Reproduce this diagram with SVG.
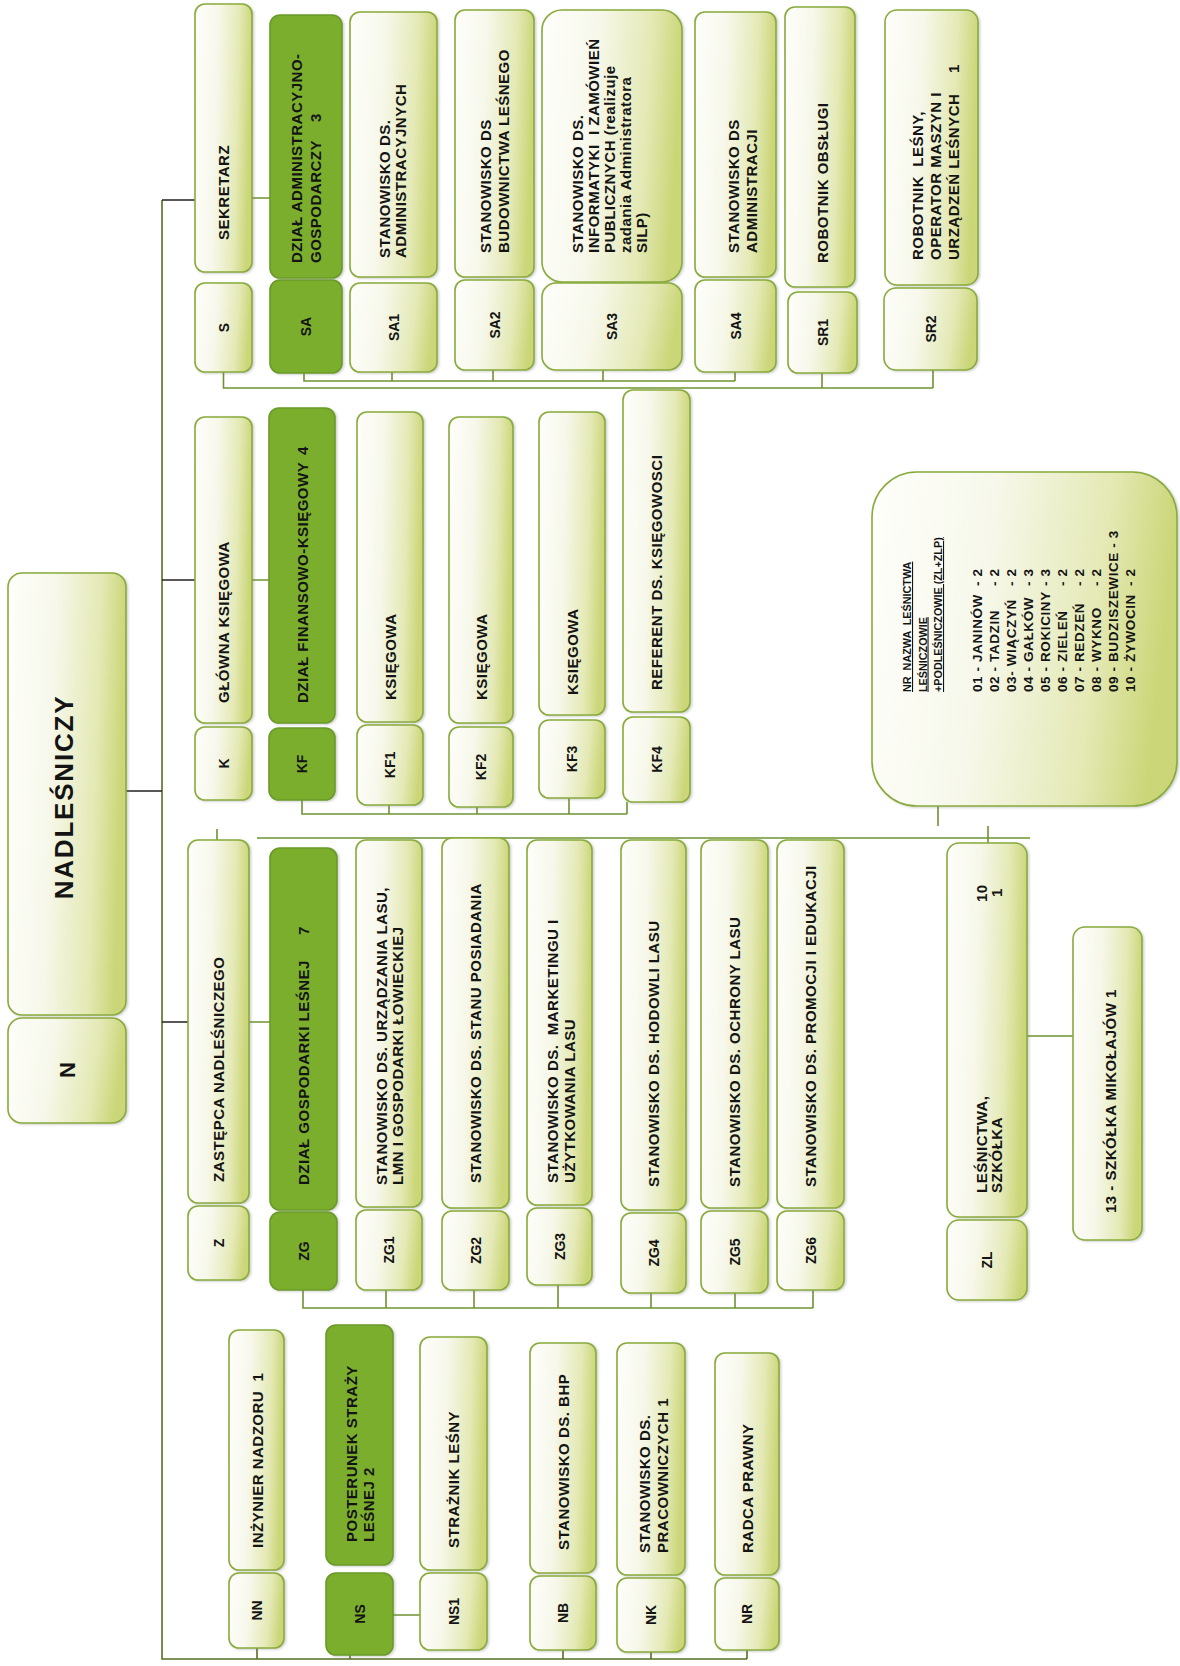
<svg xmlns="http://www.w3.org/2000/svg" width="1180" height="1666" viewBox="0 0 1180 1666">
<defs>
<linearGradient id="g" x1="0" y1="0" x2="1" y2="0.12">
<stop offset="0" stop-color="#fefefb"/>
<stop offset="0.4" stop-color="#f7f8eb"/>
<stop offset="0.78" stop-color="#e4e9b5"/>
<stop offset="1" stop-color="#cbd678"/>
</linearGradient>
<filter id="sh" x="-10%" y="-10%" width="130%" height="130%">
<feDropShadow dx="1.5" dy="1" stdDeviation="1" flood-color="#777" flood-opacity="0.35"/>
</filter>
<style>
.b{fill:url(#g);stroke:#89ab3b;stroke-width:1.6;filter:url(#sh)}
.d{fill:#7bae2f;stroke:#6b9a26;stroke-width:1.6;filter:url(#sh)}
text{font-family:"Liberation Sans",Arial,sans-serif;font-weight:bold;fill:#141414}
.t{font-size:15px;letter-spacing:0.5px}
.c{font-size:14px;text-anchor:middle}
.h{font-size:10.8px;text-decoration:underline}
.li{font-size:13.5px;letter-spacing:0.6px}
.gl{stroke:#6f9232;stroke-width:1.6;fill:none}
.k{stroke:#222;stroke-width:1.6;fill:none}
.m{stroke:#566f22;stroke-width:1.6;fill:none}
</style>
</defs>
<rect width="1180" height="1666" fill="#ffffff"/>

<g id="connectors">
<path class="m" d="M162 200V1659H747"/>
<path class="k" d="M126 791H162M162 200H195M162 580H195M162 1022H188"/>
<path class="gl" d="M252 198H270M252 580H269M249 1022H270M393 1615H420M1027 1036H1073"/>
<path class="gl" d="M304 373V381H735M392 372V381M493 370V381M603 370V381M735 372V381"/>
<path class="gl" d="M223.5 372V388H933M822 373V388M933 370V388"/>
<path class="gl" d="M302 800V814H627M389 805V814M477 807V814M569 798V814M627 802V814"/>
<path class="gl" d="M303 1290V1308H813M386 1290V1308M474 1290V1308M558 1285V1308M651 1293V1308M735 1293V1308M813 1290V1308"/>
<path class="m" d="M257 1648V1659M350 1655V1659M563 1650V1659M651 1652V1659M747 1650V1659"/>
<path class="gl" d="M257 838H1030M217 829V840M938 806V826M988 826V843"/>
</g>

<g id="N">
<rect class="b" x="8" y="573" width="118" height="442" rx="14"/>
<rect class="b" x="8" y="1018" width="118" height="105" rx="14"/>
<text style="font-size:26px;letter-spacing:1.8px;text-anchor:middle" transform="translate(73,797) rotate(-90)">NADLEŚNICZY</text>
<text style="font-size:22px;text-anchor:middle" transform="translate(75,1070) rotate(-90)">N</text>
</g>

<g id="S">
<rect class="b" x="195" y="4" width="57" height="268" rx="10"/>
<rect class="b" x="195" y="283" width="57" height="89" rx="10"/>
<text class="t" transform="translate(229,240) rotate(-90)">SEKRETARZ</text>
<text class="c" transform="translate(228.5,327.5) rotate(-90)">S</text>
</g>
<g id="SA">
<rect class="d" x="270" y="15" width="72" height="263" rx="10"/>
<rect class="d" x="270" y="280" width="72" height="93" rx="10"/>
<text class="t" transform="translate(302,263) rotate(-90)"><tspan x="0" y="0">DZIAŁ ADMINISTRACYJNO-</tspan><tspan x="0" y="19">GOSPODARCZY</tspan><tspan x="141" y="19">3</tspan></text>
<text class="c" transform="translate(311,326.5) rotate(-90)">SA</text>
</g>
<g id="SA1">
<rect class="b" x="350" y="12" width="87" height="265" rx="10"/>
<rect class="b" x="350" y="283" width="87" height="89" rx="10"/>
<text class="t" transform="translate(389.5,258) rotate(-90)"><tspan x="0" y="0">STANOWISKO DS.</tspan><tspan x="0" y="16">ADMINISTRACYJNYCH</tspan></text>
<text class="c" transform="translate(398.5,327.5) rotate(-90)">SA1</text>
</g>
<g id="SA2">
<rect class="b" x="455" y="10" width="79" height="267" rx="10"/>
<rect class="b" x="455" y="280" width="79" height="90" rx="10"/>
<text class="t" transform="translate(490.5,253) rotate(-90)"><tspan x="0" y="0">STANOWISKO DS</tspan><tspan x="0" y="18">BUDOWNICTWA LEŚNEGO</tspan></text>
<text class="c" transform="translate(499.5,325) rotate(-90)">SA2</text>
</g>
<g id="SA3">
<rect class="b" x="542" y="10" width="140" height="272" rx="20"/>
<rect class="b" x="542" y="283" width="140" height="87" rx="14"/>
<text class="t" xml:space="preserve" transform="translate(583,253) rotate(-90)"><tspan x="0" y="0">STANOWISKO DS.</tspan><tspan x="0" y="16">INFORMATYKI  I ZAMÓWIEŃ</tspan><tspan x="0" y="32">PUBLICZNYCH (realizuje</tspan><tspan x="0" y="48">zadania Administratora</tspan><tspan x="0" y="64">SILP)</tspan></text>
<text class="c" transform="translate(617,326.5) rotate(-90)">SA3</text>
</g>
<g id="SA4">
<rect class="b" x="695" y="12" width="81" height="265" rx="10"/>
<rect class="b" x="695" y="280" width="81" height="92" rx="10"/>
<text class="t" transform="translate(738.5,253) rotate(-90)"><tspan x="0" y="0">STANOWISKO DS</tspan><tspan x="0" y="18">ADMINISTRACJI</tspan></text>
<text class="c" transform="translate(740.5,326) rotate(-90)">SA4</text>
</g>
<g id="SR1">
<rect class="b" x="785" y="7" width="70" height="280" rx="10"/>
<rect class="b" x="788" y="292" width="69" height="81" rx="10"/>
<text class="t" transform="translate(827.5,263) rotate(-90)">ROBOTNIK OBSŁUGI</text>
<text class="c" transform="translate(827.5,332.5) rotate(-90)">SR1</text>
</g>
<g id="SR2">
<rect class="b" x="885" y="10" width="93" height="275" rx="12"/>
<rect class="b" x="884" y="288" width="93" height="82" rx="12"/>
<text class="t" xml:space="preserve" transform="translate(922.5,260) rotate(-90)"><tspan x="0" y="0">ROBOTNIK  LEŚNY,</tspan><tspan x="0" y="18">OPERATOR MASZYN I</tspan><tspan x="0" y="36">URZĄDZEŃ LEŚNYCH</tspan><tspan x="187" y="36">1</tspan></text>
<text class="c" transform="translate(935.5,329) rotate(-90)">SR2</text>
</g>

<g id="K">
<rect class="b" x="195" y="417" width="57" height="306" rx="10"/>
<rect class="b" x="195" y="727" width="57" height="73" rx="10"/>
<text class="t" transform="translate(228.5,703) rotate(-90)">GŁÓWNA KSIĘGOWA</text>
<text class="c" transform="translate(228.5,763.5) rotate(-90)">K</text>
</g>
<g id="KF">
<rect class="d" x="269" y="408" width="66" height="315" rx="10"/>
<rect class="d" x="269" y="728" width="66" height="72" rx="10"/>
<text class="t" transform="translate(307.5,703) rotate(-90)"><tspan x="0" y="0">DZIAŁ FINANSOWO-KSIĘGOWY</tspan><tspan x="248" y="0">4</tspan></text>
<text class="c" transform="translate(307,764) rotate(-90)">KF</text>
</g>
<g id="KF1">
<rect class="b" x="357" y="412" width="66" height="310" rx="10"/>
<rect class="b" x="357" y="725" width="66" height="80" rx="10"/>
<text class="t" transform="translate(395.5,700) rotate(-90)">KSIĘGOWA</text>
<text class="c" transform="translate(395,765) rotate(-90)">KF1</text>
</g>
<g id="KF2">
<rect class="b" x="449" y="417" width="64" height="306" rx="10"/>
<rect class="b" x="449" y="727" width="64" height="80" rx="10"/>
<text class="t" transform="translate(486.5,700) rotate(-90)">KSIĘGOWA</text>
<text class="c" transform="translate(486,767) rotate(-90)">KF2</text>
</g>
<g id="KF3">
<rect class="b" x="539" y="412" width="66" height="303" rx="10"/>
<rect class="b" x="539" y="720" width="66" height="78" rx="10"/>
<text class="t" transform="translate(577.5,695) rotate(-90)">KSIĘGOWA</text>
<text class="c" transform="translate(577,759) rotate(-90)">KF3</text>
</g>
<g id="KF4">
<rect class="b" x="623" y="390" width="67" height="322" rx="10"/>
<rect class="b" x="623" y="717" width="67" height="85" rx="10"/>
<text class="t" transform="translate(662,690) rotate(-90)">REFERENT DS. KSIĘGOWOSCI</text>
<text class="c" transform="translate(661.5,759.5) rotate(-90)">KF4</text>
</g>

<g id="Z">
<rect class="b" x="188" y="840" width="61" height="363" rx="10"/>
<rect class="b" x="188" y="1206" width="61" height="74" rx="10"/>
<text class="t" transform="translate(224,1182) rotate(-90)">ZASTĘPCA NADLEŚNICZEGO</text>
<text class="c" transform="translate(223.5,1243) rotate(-90)">Z</text>
</g>
<g id="ZG">
<rect class="d" x="270" y="848" width="67" height="362" rx="10"/>
<rect class="d" x="270" y="1212" width="67" height="78" rx="10"/>
<text class="t" transform="translate(309,1185) rotate(-90)"><tspan x="0" y="0">DZIAŁ GOSPODARKI LEŚNEJ</tspan><tspan x="250" y="0">7</tspan></text>
<text class="c" transform="translate(308.5,1251) rotate(-90)">ZG</text>
</g>
<g id="ZG1">
<rect class="b" x="356" y="840" width="66" height="367" rx="10"/>
<rect class="b" x="356" y="1210" width="66" height="80" rx="10"/>
<text class="t" transform="translate(386.5,1185) rotate(-90)"><tspan x="0" y="0">STANOWISKO DS. URZĄDZANIA LASU,</tspan><tspan x="0" y="16">LMN I GOSPODARKI ŁOWIECKIEJ</tspan></text>
<text class="c" transform="translate(394,1250) rotate(-90)">ZG1</text>
</g>
<g id="ZG2">
<rect class="b" x="442" y="838" width="67" height="370" rx="10"/>
<rect class="b" x="442" y="1211" width="67" height="79" rx="10"/>
<text class="t" transform="translate(481,1183) rotate(-90)">STANOWISKO DS. STANU POSIADANIA</text>
<text class="c" transform="translate(480.5,1250.5) rotate(-90)">ZG2</text>
</g>
<g id="ZG3">
<rect class="b" x="527" y="840" width="65" height="365" rx="10"/>
<rect class="b" x="527" y="1208" width="65" height="77" rx="10"/>
<text class="t" xml:space="preserve" transform="translate(557.5,1183) rotate(-90)"><tspan x="0" y="0">STANOWISKO DS.  MARKETINGU I</tspan><tspan x="0" y="17">UŻYTKOWANIA LASU</tspan></text>
<text class="c" transform="translate(564.5,1246.5) rotate(-90)">ZG3</text>
</g>
<g id="ZG4">
<rect class="b" x="621" y="840" width="65" height="370" rx="10"/>
<rect class="b" x="621" y="1213" width="65" height="80" rx="10"/>
<text class="t" transform="translate(659,1187) rotate(-90)">STANOWISKO DS. HODOWLI LASU</text>
<text class="c" transform="translate(658.5,1253) rotate(-90)">ZG4</text>
</g>
<g id="ZG5">
<rect class="b" x="701" y="840" width="67" height="368" rx="10"/>
<rect class="b" x="701" y="1211" width="67" height="82" rx="10"/>
<text class="t" transform="translate(740,1187) rotate(-90)">STANOWISKO DS. OCHRONY LASU</text>
<text class="c" transform="translate(739.5,1252) rotate(-90)">ZG5</text>
</g>
<g id="ZG6">
<rect class="b" x="777" y="840" width="67" height="368" rx="10"/>
<rect class="b" x="777" y="1211" width="67" height="79" rx="10"/>
<text class="t" transform="translate(816,1187) rotate(-90)">STANOWISKO DS. PROMOCJI I EDUKACJI</text>
<text class="c" transform="translate(815.5,1250.5) rotate(-90)">ZG6</text>
</g>

<g id="NN">
<rect class="b" x="229" y="1330" width="55" height="240" rx="10"/>
<rect class="b" x="229" y="1573" width="55" height="75" rx="10"/>
<text class="t" xml:space="preserve" transform="translate(262.5,1548) rotate(-90)">INŻYNIER NADZORU  1</text>
<text class="c" transform="translate(261.5,1610.5) rotate(-90)">NN</text>
</g>
<g id="NS">
<rect class="d" x="326" y="1325" width="67" height="240" rx="10"/>
<rect class="d" x="326" y="1573" width="67" height="82" rx="10"/>
<text class="t" transform="translate(356.5,1542) rotate(-90)"><tspan x="0" y="0">POSTERUNEK STRAŻY</tspan><tspan x="0" y="17">LEŚNEJ 2</tspan></text>
<text class="c" transform="translate(364.5,1614) rotate(-90)">NS</text>
</g>
<g id="NS1">
<rect class="b" x="420" y="1337" width="67" height="233" rx="10"/>
<rect class="b" x="420" y="1573" width="67" height="77" rx="10"/>
<text class="t" transform="translate(459,1548) rotate(-90)">STRAŻNIK LEŚNY</text>
<text class="c" transform="translate(458.5,1611.5) rotate(-90)">NS1</text>
</g>
<g id="NB">
<rect class="b" x="530" y="1343" width="66" height="230" rx="10"/>
<rect class="b" x="530" y="1576" width="66" height="74" rx="10"/>
<text class="t" transform="translate(568.5,1550) rotate(-90)">STANOWISKO DS. BHP</text>
<text class="c" transform="translate(568,1613) rotate(-90)">NB</text>
</g>
<g id="NK">
<rect class="b" x="617" y="1343" width="68" height="232" rx="10"/>
<rect class="b" x="617" y="1578" width="68" height="74" rx="10"/>
<text class="t" transform="translate(649.5,1553) rotate(-90)"><tspan x="0" y="0">STANOWISKO DS.</tspan><tspan x="0" y="18">PRACOWNICZYCH 1</tspan></text>
<text class="c" transform="translate(656,1615) rotate(-90)">NK</text>
</g>
<g id="NR">
<rect class="b" x="715" y="1353" width="64" height="222" rx="10"/>
<rect class="b" x="715" y="1578" width="64" height="72" rx="10"/>
<text class="t" transform="translate(752.5,1553) rotate(-90)">RADCA PRAWNY</text>
<text class="c" transform="translate(752,1614) rotate(-90)">NR</text>
</g>

<g id="ZL">
<rect class="b" x="947" y="843" width="80" height="374" rx="12"/>
<rect class="b" x="947" y="1220" width="80" height="80" rx="12"/>
<text class="t" transform="translate(986.5,1193) rotate(-90)"><tspan x="0" y="0">LEŚNICTWA,</tspan><tspan x="291" y="0">10</tspan><tspan x="0" y="15">SZKÓŁKA</tspan><tspan x="296" y="15">1</tspan></text>
<text class="c" transform="translate(992,1260) rotate(-90)">ZL</text>
</g>
<g id="SZK">
<rect class="b" x="1073" y="927" width="69" height="313" rx="12"/>
<text class="t" transform="translate(1115.5,1213) rotate(-90)">13 - SZKÓŁKA MIKOŁAJÓW 1</text>
</g>

<g id="LEG">
<rect class="b" x="872" y="472" width="305" height="334" rx="45"/>
<text class="h" xml:space="preserve" transform="translate(911,692) rotate(-90)"><tspan x="0" y="0">NR  NAZWA  LEŚNICTWA</tspan><tspan x="0" y="15.5">LEŚNICZOWIE</tspan><tspan x="0" y="31">+PODLEŚNICZOWIE (ZL+ZLP)</tspan></text>
<text class="li" transform="translate(982,692) rotate(-90)">01 - JANINÓW <tspan x="106">- 2</tspan></text>
<text class="li" transform="translate(999,692) rotate(-90)">02 - TADZIN <tspan x="106">- 2</tspan></text>
<text class="li" transform="translate(1016,692) rotate(-90)">03- WIĄCZYŃ <tspan x="106">- 2</tspan></text>
<text class="li" transform="translate(1033,692) rotate(-90)">04 - GAŁKÓW <tspan x="106">- 3</tspan></text>
<text class="li" transform="translate(1050,692) rotate(-90)">05 - ROKICINY <tspan x="106">- 3</tspan></text>
<text class="li" transform="translate(1067,692) rotate(-90)">06 - ZIELEŃ <tspan x="106">- 2</tspan></text>
<text class="li" transform="translate(1084,692) rotate(-90)">07 - REDZEŃ <tspan x="106">- 2</tspan></text>
<text class="li" transform="translate(1101,692) rotate(-90)">08 - WYKNO <tspan x="106">- 2</tspan></text>
<text class="li" transform="translate(1118,692) rotate(-90)">09 - BUDZISZEWICE - 3</text>
<text class="li" transform="translate(1135,692) rotate(-90)">10 - ŻYWOCIN <tspan x="106">- 2</tspan></text>
</g>
</svg>
